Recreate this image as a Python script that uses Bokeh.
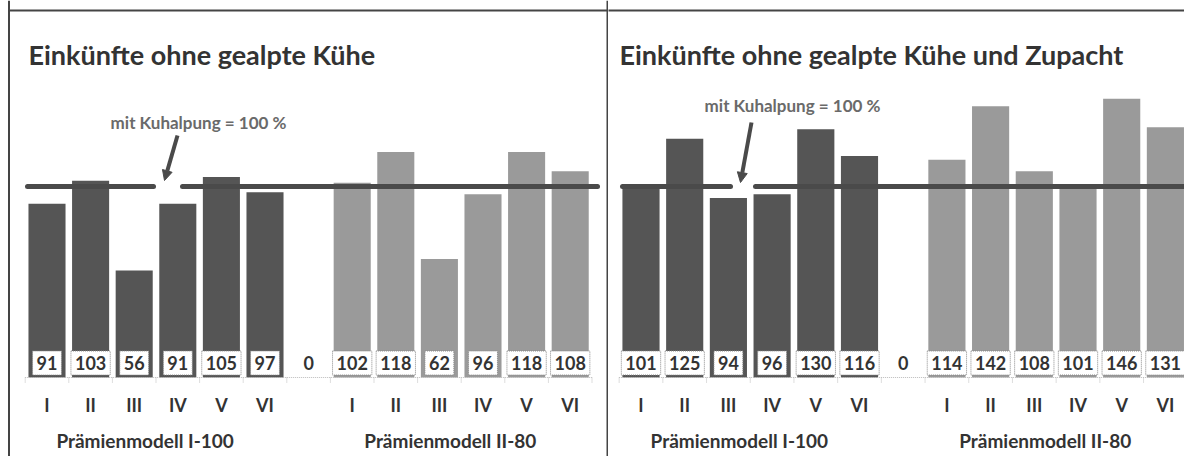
from bokeh.plotting import figure
from bokeh.layouts import row
from bokeh.models import Range1d, Span, Arrow, NormalHead, ColumnDataSource
from bokeh.core.properties import value
from bokeh.embed import file_html
from bokeh.resources import INLINE

# ---------------- data ----------------
titles = ["Einkünfte ohne gealpte Kühe", "Einkünfte ohne gealpte Kühe und Zupacht"]
categories = ["I", "II", "III", "IV", "V", "VI", "", "I", "II", "III", "IV", "V", "VI"]
slot_group = [0, 0, 0, 0, 0, 0, -1, 1, 1, 1, 1, 1, 1]
group_labels = ["Prämienmodell I-100", "Prämienmodell II-80"]
values_left = [91, 103, 56, 91, 105, 97, 0, 102, 118, 62, 96, 118, 108]
values_right = [101, 125, 94, 96, 130, 116, 0, 114, 142, 108, 101, 146, 131]
reference_level = 100
reference_text = "mit Kuhalpung = 100 %"

# ---------------- style ----------------
DARK = "#555555"
LIGHT = "#9a9a9a"
TEXT = "#333333"
NOTE = "#6a6a6a"
LINE = "#4a4a4a"
FRAME = "#444444"
FONT = value("Lato")

PAGE_TOP, HEIGHT = 0, 456
BASE_Y = 377.0      # page pixel of value 0
PPU = 1.91          # pixels per unit


def make_panel(title, vals, page_left, width, slot0, slot_w, segs, note_xy, arrow_px, title_x,
               frame_left, draw_left_border, draw_right_border):
    xd = lambda px: (px - slot0) / slot_w
    yd = lambda py: (BASE_Y - py) / PPU
    p = figure(width=width, height=HEIGHT,
               x_range=Range1d(xd(page_left), xd(page_left + width)),
               y_range=Range1d(yd(PAGE_TOP + HEIGHT), yd(PAGE_TOP)),
               x_axis_type=None, y_axis_type=None,
               output_backend="svg", toolbar_location=None,
               min_border=0, outline_line_color=None,
               background_fill_color="white", border_fill_color="white")
    p.grid.visible = False

    n = len(categories)
    xs = list(range(n))
    colors = [DARK if g == 0 else LIGHT for g in slot_group]
    src = ColumnDataSource(dict(x=xs, top=vals, color=colors))
    p.vbar(x="x", top="top", bottom=0, width=0.85, fill_color="color",
           line_color=None, source=src)

    # category baseline (dotted) and boundary ticks
    p.segment(x0=[-0.5], y0=[0], x1=[n - 0.5], y1=[0], line_color="#bbbbbb",
              line_dash="1 1", line_width=1)
    bounds = [i - 0.5 for i in range(n + 1)]
    p.segment(x0=bounds, y0=[0] * len(bounds), x1=bounds, y1=[-5 / PPU] * len(bounds),
              line_color="#bbbbbb", line_dash="1 1", line_width=1)

    # reference 100 % line (two segments with a gap for the arrow)
    for a, b in segs:
        p.line([xd(a), xd(b)], [reference_level, reference_level], line_width=5,
               line_color=LINE, line_cap="round")

    # value labels
    nz = [i for i in xs if vals[i] != 0]
    z = [i for i in xs if vals[i] == 0]
    ylab = yd(362.5)
    p.text(x=nz, y=[ylab] * len(nz), text=[str(vals[i]) for i in nz],
           text_font=FONT, text_font_style="bold", text_font_size="18px",
           text_color=TEXT, text_align="center", text_baseline="middle",
           background_fill_color="white", border_line_color="#8a8a8a",
           border_line_dash="1 1", padding=dict(left=4, right=4, top=5, bottom=5))
    p.text(x=z, y=[ylab] * len(z), text=[str(vals[i]) for i in z],
           text_font=FONT, text_font_style="bold", text_font_size="18px",
           text_color=TEXT, text_align="center", text_baseline="middle")

    # category labels
    p.text(x=xs, y=[yd(404)] * n, text=categories, text_font=FONT,
           text_font_style="bold", text_font_size="18px", text_color=TEXT,
           text_align="center", text_baseline="middle")
    # group labels
    gx = []
    for g in range(len(group_labels)):
        idx = [i for i in xs if slot_group[i] == g]
        gx.append((min(idx) + max(idx)) / 2 - 0.25)
    p.text(x=gx, y=[yd(440)] * len(gx), text=group_labels, text_font=FONT,
           text_font_style="bold", text_font_size="19px", text_color=TEXT,
           text_align="center", text_baseline="middle")

    # title
    p.text(x=[xd(title_x)], y=[yd(54)], text=[title], text_font=FONT,
           text_font_style="bold", text_font_size="27px", text_color=TEXT,
           text_align="left", text_baseline="alphabetic")

    # annotation text + arrow
    p.text(x=[xd(note_xy[0])], y=[yd(note_xy[1])], text=[reference_text], text_font=FONT,
           text_font_size="17px", text_font_style="bold", text_color=NOTE,
           text_align="center", text_baseline="middle")
    (ax0, ay0), (ax1, ay1) = arrow_px
    p.add_layout(Arrow(end=NormalHead(size=10, fill_color=LINE, line_color=LINE),
                       x_start=xd(ax0), y_start=yd(ay0), x_end=xd(ax1), y_end=yd(ay1),
                       line_width=4, line_color=LINE))

    # panel frame
    p.segment(x0=[xd(frame_left)], y0=[yd(10)], x1=[xd(page_left + width + 5)], y1=[yd(10)],
              line_color=FRAME, line_width=2)
    if draw_left_border:
        p.add_layout(Span(location=xd(8.5), dimension="height", line_color=FRAME, line_width=2))
    if draw_right_border:
        p.add_layout(Span(location=xd(page_left + width - 1), dimension="height",
                          line_color=FRAME, line_width=2))
    return p


p1 = make_panel(titles[0], values_left, 0, 608, 46.5, 43.6,
                [(27, 153), (182, 597)], (198, 122), ((177, 135), (164, 180)), 28,
                7.5, True, True)
p2 = make_panel(titles[1], values_right, 608, 576, 640.5, 43.7,
                [(622, 730), (755, 1200)], (792, 105), ((751, 122), (740, 182)), 619,
                600, False, False)

layout = row(p1, p2, spacing=0)
open("out.html", "w").write(file_html(layout, INLINE))
